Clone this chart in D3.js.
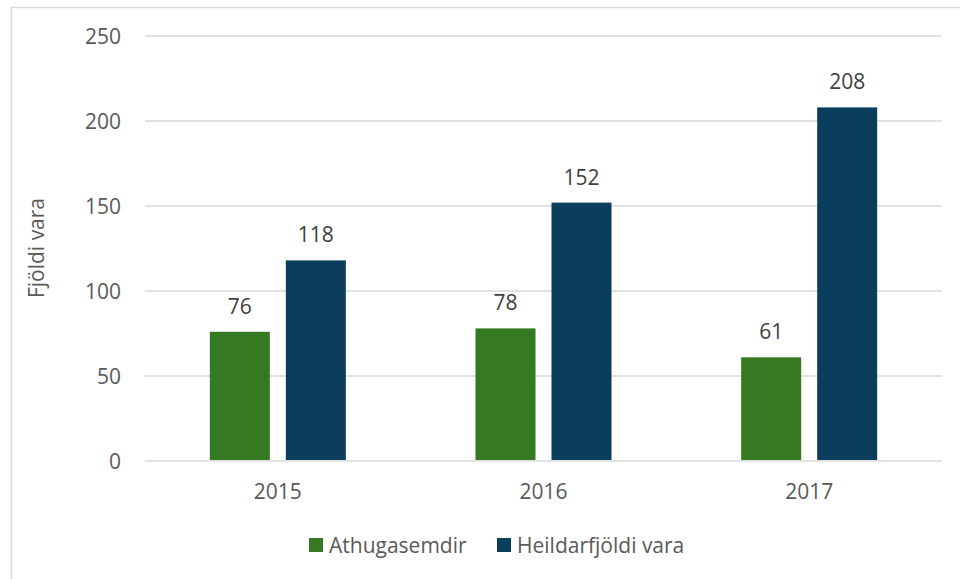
<!DOCTYPE html>
<html><head><meta charset="utf-8">
<script src="https://cdn.jsdelivr.net/npm/d3@7/dist/d3.min.js"></script>
<style>
html,body{margin:0;padding:0;background:#fff;overflow:hidden;}
svg text{font-family:"Open Sans",sans-serif;}
</style></head>
<body>
<script>
const categories = ["2015", "2016", "2017"];
const seriesNames = ["Athugasemdir", "Heildarfjöldi vara"];
const athugasemdir = [76, 78, 61];
const heildarfjoldi = [118, 152, 208];
const yTicks = [0, 50, 100, 150, 200, 250];
const colors = ["#357A22", "#0A3E5C"];

const W = 960, H = 579;
const svg = d3.select("body").append("svg").attr("width", W).attr("height", H).style("display", "block");

// outer frame
svg.append("rect").attr("x", 11.5).attr("y", 7.5).attr("width", 1000).attr("height", 1000)
  .attr("fill", "#fff").attr("stroke", "#d9d9d9").attr("stroke-width", 1.5);

const plotL = 145, plotR = 942, plotT = 36, plotB = 461;
const y = d3.scaleLinear().domain([0, 250]).range([plotB, plotT]);
const x0 = d3.scaleBand().domain(categories).range([plotL, plotR]).padding(0);
const x1 = d3.scaleBand().domain(seriesNames).range([0, 136]).paddingInner(0.2105).paddingOuter(0);

// gridlines
svg.append("g").selectAll("line").data(yTicks).join("line")
  .attr("x1", plotL).attr("x2", plotR)
  .attr("y1", d => y(d)).attr("y2", d => y(d))
  .attr("stroke", "#d9d9d9").attr("stroke-width", 1.3);

// y tick labels
svg.append("g").selectAll("text").data(yTicks).join("text")
  .attr("x", 121).attr("y", d => y(d)).attr("dy", "0.36em")
  .attr("text-anchor", "end").attr("font-size", 21).attr("fill", "#595959")
  .text(d => d);

// x tick labels
svg.append("g").selectAll("text").data(categories).join("text")
  .attr("x", d => x0(d) + x0.bandwidth() / 2).attr("y", 499)
  .attr("text-anchor", "middle").attr("font-size", 21).attr("fill", "#595959")
  .text(d => d);

// y axis title
svg.append("text").attr("transform", "translate(44,248) rotate(-90)")
  .attr("text-anchor", "middle").attr("font-size", 21).attr("fill", "#595959")
  .text("Fjöldi vara");

const data = categories.map((c, i) => ({cat: c, vals: [
  {s: seriesNames[0], v: athugasemdir[i], c: colors[0]},
  {s: seriesNames[1], v: heildarfjoldi[i], c: colors[1]}]}));

const g = svg.append("g").selectAll("g").data(data).join("g")
  .attr("transform", d => `translate(${x0(d.cat) + x0.bandwidth() / 2 - 68},0)`);

g.selectAll("rect").data(d => d.vals).join("rect")
  .attr("x", d => x1(d.s)).attr("width", x1.bandwidth())
  .attr("y", d => y(d.v)).attr("height", d => y(0) - y(d.v) - 1)
  .attr("fill", d => d.c);

g.selectAll("text").data(d => d.vals).join("text")
  .attr("x", d => x1(d.s) + x1.bandwidth() / 2).attr("y", d => y(d.v) - 18)
  .attr("text-anchor", "middle").attr("font-size", 21).attr("fill", "#404040")
  .text(d => d.v);

// legend
const legendX = [309, 497];
const lg = svg.append("g").selectAll("g").data(seriesNames).join("g")
  .attr("transform", (d, i) => `translate(${legendX[i]},538)`);
lg.append("rect").attr("width", 14).attr("height", 14).attr("fill", (d, i) => colors[i]);
lg.append("text").attr("x", 20).attr("y", 7).attr("dy", "0.36em")
  .attr("font-size", 21).attr("fill", "#595959").text(d => d);
</script>
</body></html>
